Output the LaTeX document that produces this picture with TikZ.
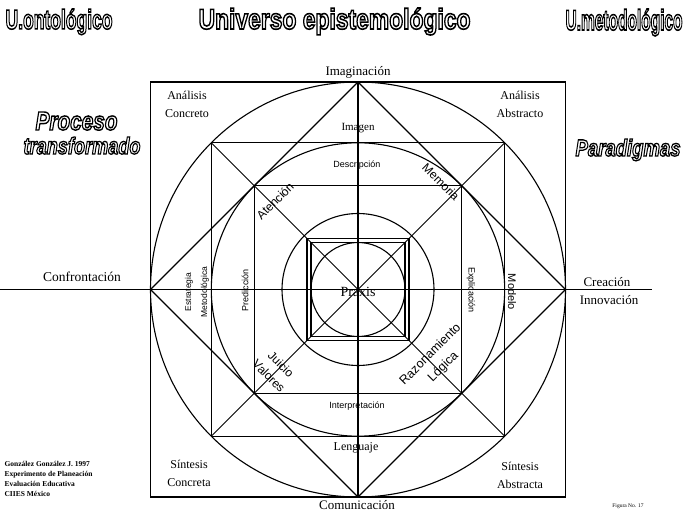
\documentclass[tikz,border=0pt]{standalone}
\usepackage{fontspec}
\setmainfont{Liberation Serif}
\newfontfamily\sansf{Liberation Sans}
\usepackage{graphicx}
\newcommand{\outl}[1]{\special{pdf:literal direct 1 Tr 0.55 w 0 G}#1\special{pdf:literal direct 0 Tr}}
\newcommand{\fitbox}[3]{\resizebox{#1pt}{#2pt}{#3}}
\begin{document}
\begin{tikzpicture}[x=1pt,y=-1pt,line width=1.1pt,
  geo/.style={draw,inner sep=0pt,outer sep=0pt},
  sqr/.style={geo,rectangle,minimum size=#1},
  crc/.style={geo,circle,minimum size=#1},
  lbl/.style={inner sep=0pt,font=\fontsize{12}{18}\selectfont,align=center},
  slbl/.style={inner sep=0pt,font=\sansf\fontsize{11}{17}\selectfont,align=center},
  ttl/.style={inner sep=0pt,anchor=base west}]
\useasboundingbox (0,0) rectangle (686,513);
\coordinate (C) at (358,289.5);
% geometry
\node[sqr=415pt,line width=1.4pt] (sq1) at (C) {};
\node[crc=415pt] (c1) at (C) {};
\draw (sq1.north) -- (sq1.east) -- (sq1.south) -- (sq1.west) -- cycle;
\node[sqr=293.4pt] (sq2) at (C) {};
\node[crc=293.4pt] (c2) at (C) {};
\node[sqr=207.5pt] (sq3) at (C) {};
\node[crc=152pt] (c3) at (C) {};
\node[sqr=102pt] (sq4) at (C) {};
\node[sqr=94pt] (sq5) at (C) {};
\node[crc=94pt] (c4) at (C) {};
\draw[line width=0.8pt] (sq2.north west) -- (sq2.south east);
\draw[line width=0.8pt] (sq2.north east) -- (sq2.south west);
\draw (sq1.north) -- (sq1.south);
\coordinate (axL) at (0,289.5);
\coordinate (axR) at (652,289.5);
\draw (axL) -- (axR);
% outer texts
\node[lbl,font=\fontsize{13}{13}\selectfont] (imag) at (358,72) {Imaginación};
\node[lbl,font=\fontsize{13}{13}\selectfont] (comu) at (357,505) {Comunicación};
\node[lbl,font=\fontsize{13.5}{13}\selectfont] (conf) at (82,277) {Confrontación};
\node[lbl,font=\fontsize{13}{13}\selectfont] (crea) at (607,282) {Creación};
\node[lbl,font=\fontsize{13}{13}\selectfont] (inno) at (609,300) {Innovación};
% corner texts
\node[lbl] (ac) at (187,104) {Análisis\\Concreto};
\node[lbl] (aa) at (520,104) {Análisis\\Abstracto};
\node[lbl] (sc) at (189,473) {Síntesis\\Concreta};
\node[lbl] (sa) at (520,475) {Síntesis\\Abstracta};
% inner texts
\node[lbl,font=\fontsize{11}{11}\selectfont] (imagen) at (358,128) {Imagen};
\node[slbl,font=\sansf\fontsize{9}{9}\selectfont] (desc) at (357,165) {Descripción};
\node[slbl,font=\sansf\fontsize{9}{9}\selectfont] (interp) at (357,406) {Interpretación};
\node[lbl] (leng) at (356,448) {Lenguaje};
\node[lbl,font=\fontsize{14}{14}\selectfont] (praxis) at (358,292) {Praxis};
\node[slbl,font=\sansf\fontsize{9}{9}\selectfont,rotate=90] (pred) at (245,290) {Predicción};
\node[slbl,font=\sansf\fontsize{9}{9}\selectfont,rotate=-90] (expl) at (471,290) {Explicación};
\node[slbl,font=\sansf\fontsize{8.5}{16}\selectfont,rotate=90] (estr) at (197,292) {Estrategia\\Metodológica};
\node[slbl,rotate=-90] (mod) at (512,292) {Modelo};
\node[slbl,font=\sansf\fontsize{12}{17}\selectfont,rotate=45] (aten) at (275,201) {Atención};
\node[slbl,font=\sansf\fontsize{12}{17}\selectfont,rotate=-45] (mem) at (441,182) {Memoria};
\node[slbl,font=\sansf\fontsize{12}{17}\selectfont,rotate=-45] (juic) at (275,370) {Juicio\\Valores};
\node[slbl,font=\sansf\fontsize{12.5}{18}\selectfont,rotate=45] (razo) at (437,361) {Razonamiento\\Lógica};
% titles
\node[ttl] (t1) at (5,29) {\fitbox{107}{20}{\sansf\bfseries\outl{U.ontológico}}};
\node[ttl] (t2) at (198,29) {\fitbox{272}{21}{\sansf\bfseries\outl{Universo epistemológico}}};
\node[ttl] (t3) at (565,30) {\fitbox{117}{21}{\sansf\bfseries\outl{U.metodológico}}};
\node[ttl] (t4) at (35,130) {\fitbox{82}{18}{\sansf\bfseries\itshape\outl{Proceso}}};
\node[ttl] (t5) at (23,154) {\fitbox{117}{17}{\sansf\bfseries\itshape\outl{transformado}}};
\node[ttl] (t6) at (575,156) {\fitbox{105}{17}{\sansf\bfseries\itshape\outl{Paradigmas}}};
% credits
\node[inner sep=0pt,anchor=north west,align=left,font=\bfseries\fontsize{7.5}{10}\selectfont] (cred) at (4,461) {González González J. 1997\\Experimento de Planeación\\Evaluación Educativa\\CIIES México};
\node[inner sep=0pt,font=\fontsize{5.5}{6}\selectfont] (fig) at (628,506) {Figura No. 17};
\end{tikzpicture}
\end{document}
